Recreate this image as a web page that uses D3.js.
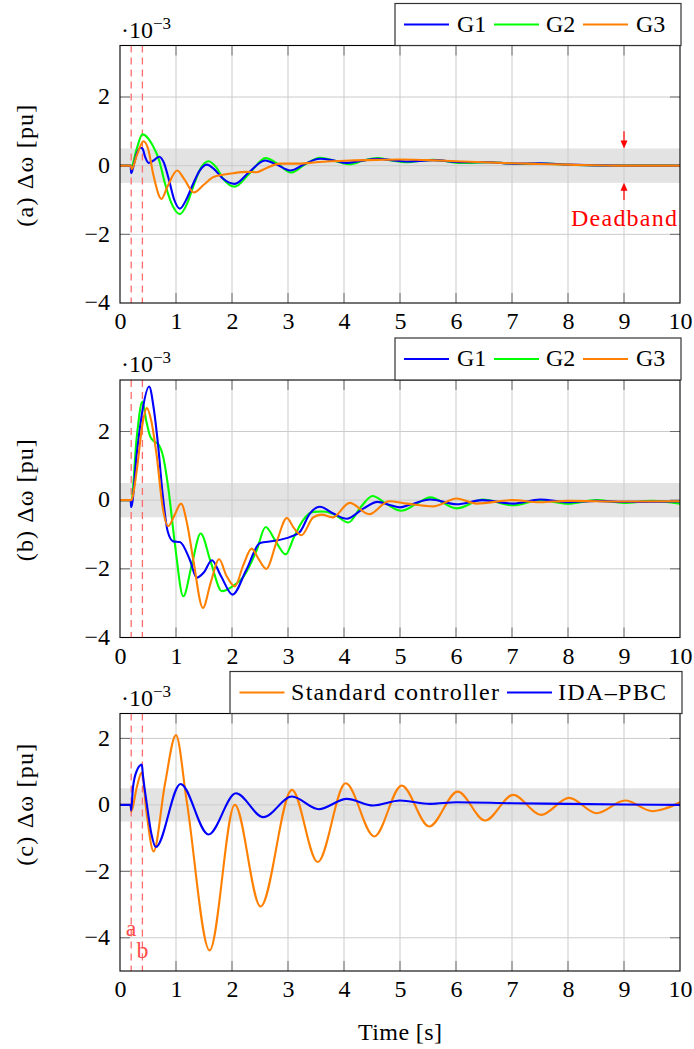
<!DOCTYPE html>
<html><head><meta charset="utf-8">
<script src="https://cdn.jsdelivr.net/npm/d3@7"></script>
<style>body{margin:0;background:#fff;} svg text{font-family:"Liberation Serif","Times New Roman",serif;}</style>
</head><body><svg id="c" width="694" height="1049"></svg>
<script>
// ---------- data ----------
const timeTicks = [0,1,2,3,4,5,6,7,8,9,10];
const yTicksAB = [-4,-2,0,2];
const yTicksC = [-4,-2,0,2];
const deadband = [-0.5, 0.5];
const eventTimes = [0.2, 0.4];
const eventLabels = ["a","b"];
const legendAB = ["G1","G2","G3"];
const legendC = ["Standard controller","IDA–PBC"];
const panelLabels = ["(a) Δω [pu]","(b) Δω [pu]","(c) Δω [pu]"];

// panel (a)
const a_G1 = [[0,0],[0.19,0],[0.2,-0.22],[0.25,0.05],[0.3,0.35],[0.36,0.52],[0.4,0.5],[0.45,0.25],[0.51,0.08],[0.6,0.15],[0.7,0.26],[0.78,0.1],[0.88,-0.45],[0.97,-1.0],[1.07,-1.25],[1.18,-1.0],[1.3,-0.55],[1.42,-0.15],[1.55,0.03],[1.68,-0.1],[1.82,-0.35],[2.05,-0.53],[2.3,-0.2],[2.59,0.15],[2.8,0.03],[3.04,-0.14],[3.3,0.05],[3.57,0.2],[3.8,0.16],[4.05,0.08],[4.3,0.14],[4.6,0.2],[4.85,0.16],[5.1,0.12],[5.6,0.16],[6.1,0.1],[6.6,0.1],[7.0,0.06],[7.5,0.07],[8,0.03],[9,0.0],[10,0.0]];
const a_G2 = [[0,0],[0.19,0],[0.2,-0.03],[0.3,0.5],[0.4,0.91],[0.5,0.8],[0.58,0.6],[0.7,0.15],[0.8,-0.5],[0.92,-1.1],[1.07,-1.41],[1.2,-1.1],[1.32,-0.55],[1.45,-0.05],[1.58,0.13],[1.72,-0.05],[1.85,-0.4],[2.05,-0.61],[2.3,-0.25],[2.6,0.22],[2.82,0.05],[3.05,-0.2],[3.3,0.03],[3.57,0.23],[3.83,0.14],[4.1,0.04],[4.35,0.15],[4.6,0.22],[4.85,0.15],[5.1,0.1],[5.6,0.17],[6.1,0.08],[6.6,0.1],[7.1,0.05],[7.6,0.06],[8.1,0.02],[9,0],[10,0]];
const a_G3 = [[0,0],[0.19,0],[0.21,-0.1],[0.3,0.3],[0.42,0.71],[0.5,0.5],[0.6,-0.3],[0.74,-0.97],[0.85,-0.6],[1.02,-0.14],[1.15,-0.4],[1.32,-0.78],[1.5,-0.55],[1.67,-0.33],[2.02,-0.22],[2.25,-0.18],[2.44,-0.19],[2.6,-0.08],[2.86,0.06],[3.21,0.06],[3.5,0.1],[4.1,0.15],[4.6,0.17],[5.0,0.18],[5.5,0.16],[6,0.13],[6.5,0.1],[7,0.07],[7.5,0.05],[8,0.03],[9,0],[10,0]];

// panel (b)
const b_G1 = [[0,0],[0.19,0],[0.2,-0.2],[0.3,1.36],[0.4,2.6],[0.52,3.31],[0.6,2.7],[0.68,1.6],[0.76,0.2],[0.85,-0.9],[0.95,-1.2],[1.07,-1.22],[1.25,-1.75],[1.37,-2.26],[1.5,-2.1],[1.64,-1.75],[1.8,-2.2],[2.01,-2.75],[2.25,-2.05],[2.5,-1.25],[2.74,-1.19],[3.04,-1.07],[3.21,-0.93],[3.39,-0.39],[3.57,-0.19],[3.81,-0.39],[4.05,-0.54],[4.35,-0.24],[4.6,-0.05],[4.83,-0.15],[5.0,-0.21],[5.2,-0.12],[5.54,0.02],[6.01,-0.12],[6.47,0.0],[7.02,-0.1],[7.5,0.02],[8.0,-0.06],[8.5,-0.02],[9,-0.05],[10,-0.04]];
const b_G2 = [[0,0],[0.19,0],[0.2,0.0],[0.3,1.85],[0.4,2.87],[0.47,2.3],[0.54,1.85],[0.62,1.7],[0.68,1.64],[0.77,1.27],[0.86,0.39],[0.98,-1.27],[1.13,-2.8],[1.28,-1.9],[1.44,-0.97],[1.62,-1.8],[1.82,-2.65],[2.02,-2.5],[2.2,-2.24],[2.44,-1.46],[2.6,-0.78],[2.78,-1.2],[2.96,-1.58],[3.1,-1.1],[3.27,-0.58],[3.45,-0.34],[3.62,-0.33],[3.81,-0.4],[4.08,-0.65],[4.3,-0.2],[4.51,0.12],[4.75,-0.1],[5.02,-0.31],[5.3,-0.1],[5.54,0.08],[6.01,-0.24],[6.48,0.02],[7.02,-0.15],[7.5,0.0],[8,-0.1],[8.5,0.0],[9,-0.08],[9.5,-0.02],[10,-0.1]];
const b_G3 = [[0,0],[0.19,0],[0.21,0.02],[0.3,0.88],[0.4,2.2],[0.48,2.68],[0.56,2.3],[0.65,1.36],[0.77,-0.29],[0.86,-0.76],[0.97,-0.45],[1.09,-0.1],[1.2,-0.7],[1.31,-1.75],[1.48,-3.14],[1.62,-2.4],[1.77,-1.72],[1.9,-2.2],[2.05,-2.51],[2.2,-1.9],[2.35,-1.41],[2.47,-1.7],[2.61,-2.0],[2.8,-1.2],[2.98,-0.52],[3.1,-0.8],[3.24,-1.02],[3.45,-0.5],[3.6,-0.42],[3.8,-0.5],[4.1,-0.08],[4.45,-0.41],[4.8,-0.03],[5.12,-0.1],[5.6,-0.18],[6.01,0.05],[6.37,-0.1],[7.0,0.0],[7.5,-0.06],[8,-0.02],[9,-0.04],[10,-0.03]];

// panel (c)
const c_std = [[0,0],[0.19,0],[0.2,-0.2],[0.3,0.53],[0.39,0.98],[0.47,-0.17],[0.6,-1.4],[0.8,0.6],[1.0,2.1],[1.19,0.13],[1.6,-4.38],[2.05,0.0],[2.51,-3.06],[3.07,0.45],[3.53,-1.72],[4.03,0.65],[4.54,-0.95],[5.03,0.58],[5.52,-0.65],[6.03,0.4],[6.52,-0.47],[7.02,0.3],[7.52,-0.3],[8.02,0.21],[8.51,-0.25],[9.02,0.13],[9.51,-0.19],[10,0.08]];
const c_ida = [[0,0],[0.19,0],[0.2,-0.17],[0.23,0.5],[0.3,1.03],[0.39,1.21],[0.41,0.88],[0.47,0.13],[0.56,-0.87],[0.64,-1.27],[1.08,0.63],[1.58,-0.89],[2.07,0.35],[2.56,-0.37],[3.07,0.25],[3.55,-0.13],[4.05,0.18],[4.52,-0.02],[5.0,0.13],[5.54,0.03],[6.01,0.08],[7,0.05],[8,0.03],[9,0.01],[10,0.0]];

// ---------- layout ----------
const FONT = "Liberation Serif", FS = 24;
const X0 = 120, X1 = 680, PH = 257.5;
const BLUE = "#0000ff", GREEN = "#00ff00", ORANGE = "#ff8000";
const svg = d3.select("#c");

const panels = [
  {key:"a", top:45.5, ydom:[-4,3.5], yticks:yTicksAB, label:panelLabels[0],
   series:[{d:a_G2,c:GREEN},{d:a_G1,c:BLUE},{d:a_G3,c:ORANGE}],
   legend:{x:395, w:286, items:[{t:legendAB[0],c:BLUE,lx:404,tx:457},{t:legendAB[1],c:GREEN,lx:494,tx:546},{t:legendAB[2],c:ORANGE,lx:583,tx:636}]},
   deadbandNote:true},
  {key:"b", top:380, ydom:[-4,3.5], yticks:yTicksAB, label:panelLabels[1],
   series:[{d:b_G2,c:GREEN},{d:b_G1,c:BLUE},{d:b_G3,c:ORANGE}],
   legend:{x:395, w:286, items:[{t:legendAB[0],c:BLUE,lx:404,tx:457},{t:legendAB[1],c:GREEN,lx:494,tx:546},{t:legendAB[2],c:ORANGE,lx:583,tx:636}]}},
  {key:"c", top:713.5, ydom:[-5,2.75], yticks:yTicksC, label:panelLabels[2],
   series:[{d:c_std,c:ORANGE},{d:c_ida,c:BLUE}],
   legend:{x:230, w:452, items:[{t:legendC[0],c:ORANGE,lx:239.5,tx:291,tl:208},{t:legendC[1],c:BLUE,lx:507,tx:558,tl:108}]},
   eventNote:true}
];

const x = d3.scaleLinear().domain([0,10]).range([X0,X1]);
const line = (y) => d3.line().x(d=>x(d[0])).y(d=>y(d[1])).curve(d3.curveMonotoneX);

panels.forEach(p => {
  const bottom = p.top + PH;
  const y = d3.scaleLinear().domain(p.ydom).range([bottom, p.top]);
  const g = svg.append("g");
  svg.append("clipPath").attr("id","clip"+p.key).append("rect")
    .attr("x",X0).attr("y",p.top).attr("width",X1-X0).attr("height",PH);

  // deadband
  g.append("rect").attr("x",X0).attr("width",X1-X0)
    .attr("y",y(deadband[1])).attr("height",y(deadband[0])-y(deadband[1]))
    .attr("fill","#e3e3e3");

  // grid
  g.selectAll(".gx").data(timeTicks.filter(t=>t>0&&t<10)).join("line")
    .attr("x1",d=>x(d)).attr("x2",d=>x(d)).attr("y1",p.top).attr("y2",bottom)
    .attr("stroke","#cbcbcb").attr("stroke-width",1);
  g.selectAll(".gy").data(p.yticks.filter(v=>v>p.ydom[0]&&v<p.ydom[1])).join("line")
    .attr("x1",X0).attr("x2",X1).attr("y1",d=>y(d)).attr("y2",d=>y(d))
    .attr("stroke","#cbcbcb").attr("stroke-width",1);

  // tick marks (inside, both sides)
  const tk = g.append("g").attr("stroke","#6e6e6e").attr("stroke-width",1);
  timeTicks.filter(t=>t>0&&t<10).forEach(t=>{
    tk.append("line").attr("x1",x(t)).attr("x2",x(t)).attr("y1",bottom).attr("y2",bottom-10);
    tk.append("line").attr("x1",x(t)).attr("x2",x(t)).attr("y1",p.top).attr("y2",p.top+10);
  });
  p.yticks.filter(v=>v>p.ydom[0]&&v<p.ydom[1]).forEach(v=>{
    tk.append("line").attr("x1",X0).attr("x2",X0+10).attr("y1",y(v)).attr("y2",y(v));
    tk.append("line").attr("x1",X1).attr("x2",X1-10).attr("y1",y(v)).attr("y2",y(v));
  });

  // event lines
  g.selectAll(".ev").data(eventTimes).join("line")
    .attr("x1",d=>x(d)).attr("x2",d=>x(d)).attr("y1",p.top).attr("y2",bottom)
    .attr("stroke","#ff6b6b").attr("stroke-width",1.3).attr("stroke-dasharray","7,5");

  // curves
  const cg = g.append("g").attr("clip-path",`url(#clip${p.key})`);
  p.series.forEach(s => cg.append("path").attr("d",line(y)(s.d))
    .attr("fill","none").attr("stroke",s.c).attr("stroke-width",2.1)
    .attr("stroke-linejoin","round"));

  // frame
  g.append("rect").attr("x",X0).attr("y",p.top).attr("width",X1-X0).attr("height",PH)
    .attr("fill","none").attr("stroke","#000").attr("stroke-width",1.1);

  // axes labels
  const ax = g.append("g").attr("transform",`translate(0,${bottom})`)
    .call(d3.axisBottom(x).tickValues(timeTicks).tickSize(0).tickPadding(9).tickFormat(d3.format("d")));
  ax.select(".domain").remove();
  ax.selectAll("text").attr("font-family",FONT).attr("font-size",FS).attr("fill","#000");
  const ay = g.append("g").attr("transform",`translate(${X0},0)`)
    .call(d3.axisLeft(y).tickValues(p.yticks).tickSize(0).tickPadding(10).tickFormat(d3.format("d")));
  ay.select(".domain").remove();
  ay.selectAll("text").attr("font-family",FONT).attr("font-size",FS).attr("fill","#000").attr("dy","0.28em");

  // exponent
  const ex = g.append("text").attr("x",121).attr("y",p.top-8).attr("font-size",FS).attr("fill","#000");
  ex.append("tspan").text("·10");
  ex.append("tspan").attr("font-size",17).attr("dy",-9).text("−3");

  // y label
  g.append("text").attr("transform",`translate(33,${y(0)}) rotate(-90)`)
    .attr("text-anchor","middle").attr("font-size",FS).attr("fill","#000")
    .attr("textLength",122).attr("lengthAdjust","spacing").text(p.label);

  // legend
  const L = p.legend, lt = p.top - 42;
  const lg = g.append("g");
  lg.append("rect").attr("x",L.x).attr("y",lt).attr("width",L.w).attr("height",42)
    .attr("fill","#fff").attr("stroke","#333").attr("stroke-width",1.2);
  L.items.forEach(it=>{
    lg.append("line").attr("x1",it.lx).attr("x2",it.lx+45).attr("y1",lt+21).attr("y2",lt+21)
      .attr("stroke",it.c).attr("stroke-width",2.1);
    const t = lg.append("text").attr("x",it.tx).attr("y",lt+28).attr("font-size",FS).attr("fill","#000").text(it.t);
    if (it.tl) t.attr("textLength",it.tl).attr("lengthAdjust","spacing");
  });

  if (p.deadbandNote) {
    const ar = g.append("g").attr("fill","#ff0000").attr("stroke","#ff0000");
    const xa = x(9);
    ar.append("line").attr("x1",xa).attr("x2",xa).attr("y1",y(1.0)).attr("y2",y(0.5)-6).attr("stroke-width",1.2);
    ar.append("path").attr("d",`M${xa-3.5},${y(0.5)-8}L${xa+3.5},${y(0.5)-8}L${xa},${y(0.5)}Z`).attr("stroke","none");
    ar.append("line").attr("x1",xa).attr("x2",xa).attr("y1",y(-1.0)).attr("y2",y(-0.5)+6).attr("stroke-width",1.2);
    ar.append("path").attr("d",`M${xa-3.5},${y(-0.5)+8}L${xa+3.5},${y(-0.5)+8}L${xa},${y(-0.5)}Z`).attr("stroke","none");
    g.append("text").attr("x",xa).attr("y",y(-1.76)).attr("text-anchor","middle")
      .attr("font-size",FS).attr("fill","#ff0000")
      .attr("textLength",106).attr("lengthAdjust","spacing").text("Deadband");
  }
  if (p.eventNote) {
    const lvl = [-3.95,-4.62];
    eventTimes.forEach((t,i)=>{
      g.append("text").attr("x",x(t)).attr("y",y(lvl[i])).attr("text-anchor","middle")
        .attr("font-size",FS).attr("fill","#ff4d4d").text(eventLabels[i]);
    });
  }
});

// x title
svg.append("text").attr("x",(X0+X1)/2).attr("y",1040).attr("text-anchor","middle")
  .attr("font-size",FS).attr("fill","#000").attr("textLength",84).attr("lengthAdjust","spacing").text("Time [s]");
</script>
</body></html>
